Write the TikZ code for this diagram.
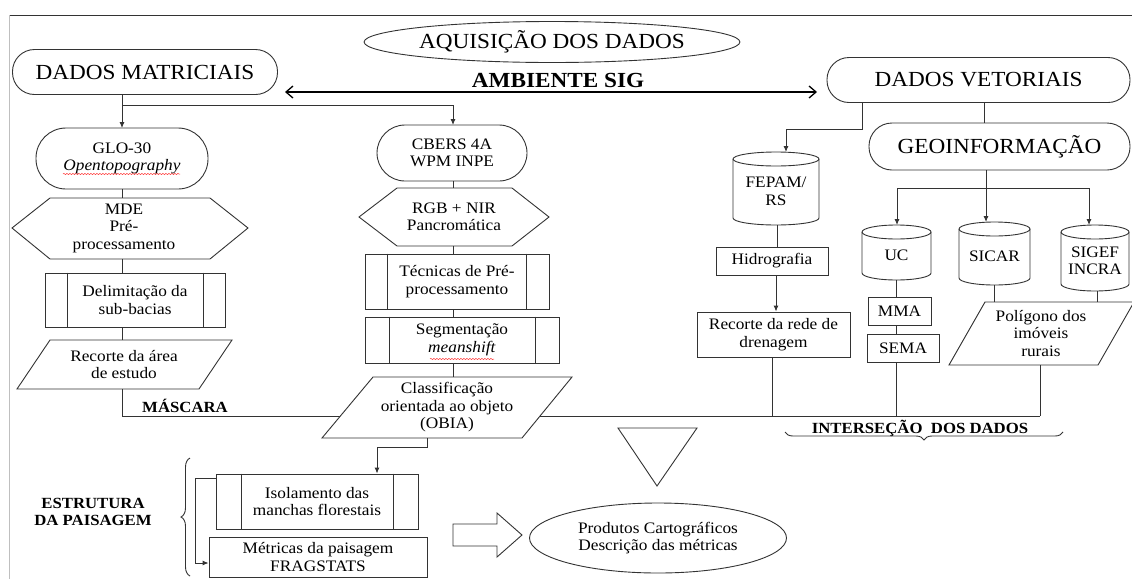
\documentclass[tikz,border=0pt]{standalone}
\usepackage{fontspec}
\setmainfont{Liberation Serif}[FakeStretch=1.08]
\usetikzlibrary{arrows.meta,shapes.geometric,decorations.pathreplacing,decorations.pathmorphing}
\tikzset{
  ln/.style={draw=black!80, line width=0.9pt},
  txt/.style={align=center, font=\fontsize{16}{17.5}\selectfont, inner sep=0pt},
  bigtxt/.style={font=\fontsize{21.5}{24}\selectfont, inner sep=0pt},
  lbl/.style={align=center, font=\bfseries\fontsize{15.5}{17.5}\selectfont, inner sep=0pt},
  arr/.style={ln, -{Latex[length=6pt,width=5pt]}},
  term/.style={ln, fill=white, rectangle, inner sep=0pt},
  boxn/.style={ln, fill=white, rectangle, inner sep=0pt, align=center, font=\fontsize{16}{17.5}\selectfont},
  shp/.style={ln, fill=white},
  squig/.style={red!80, line width=0.5pt, decorate, decoration={snake, amplitude=0.6pt, segment length=3pt}},
}
\newcommand{\dbcyl}[6]{% name, cx, top, bottom, rx, text
  \draw[shp] (#2-#5,#3-7) -- (#2-#5,#4+7) arc[start angle=180,end angle=360,x radius=#5pt,y radius=7pt]
     -- (#2+#5,#3-7) arc[start angle=0,end angle=180,x radius=#5pt,y radius=7pt] -- cycle;
  \draw[ln] (#2-#5,#3-7) arc[start angle=180,end angle=360,x radius=#5pt,y radius=7pt];
  \coordinate (#1-t) at (#2,#3);
  \coordinate (#1-b) at (#2,#4);
  \node[txt] (#1) at (#2,{(#3+#4)/2-3}) {#6};
}
\begin{document}
\begin{tikzpicture}[x=1pt,y=1pt]
\useasboundingbox (0,0) rectangle (1132,-579);
\fill[white] (0,0) rectangle (1132,-579);
% page frame
\draw[black!80, line width=0.8pt] (9,-15) -- (1132,-15);
\draw[black!25, line width=0.6pt] (9,-15) -- (9,-579);

% title
\node[ln, ellipse, minimum width=326pt, minimum height=41pt, inner sep=0pt, bigtxt] (aq) at (552,-42) {AQUISIÇÃO DOS DADOS};
\node[font=\bfseries\fontsize{21.5}{24}\selectfont, inner sep=0pt] (amb) at (558,-80) {AMBIENTE SIG};
\coordinate (dal) at (285,-92);
\coordinate (dar) at (817,-92);
\draw[black, line width=1.3pt, {Straight Barb[length=7pt,width=12pt]}-{Straight Barb[length=7pt,width=12pt]}] (dal) -- (dar);

% left column
\node[term, rounded corners=22pt, minimum width=265pt, minimum height=45pt, bigtxt] (dm) at (145,-72) {DADOS MATRICIAIS};
\node[term, rounded corners=30pt, minimum width=172pt, minimum height=61pt, txt] (glo) at (122,-158.5) {GLO-30\\\textit{Opentopography}};
\draw[squig] (63,-174) -- (180,-174);

\draw[shp] (12,-228) -- (50,-198) -- (210,-198) -- (248,-228) -- (210,-259) -- (50,-259) -- cycle;
\node[txt] (mde) at (124,-228) {MDE\\Pré-\\processamento};
\coordinate (mde-t) at (122,-198);
\coordinate (mde-b) at (122,-259);

\node[boxn, minimum width=180pt, minimum height=54pt] (del) at (135,-300) {Delimitação da\\sub-bacias};
\draw[ln] ([xshift=23pt]del.north west) -- ([xshift=23pt]del.south west);
\draw[ln] ([xshift=-22pt]del.north east) -- ([xshift=-22pt]del.south east);

\draw[shp] (17,-389) -- (50,-340) -- (232,-340) -- (199,-389) -- cycle;
\node[txt] (rec) at (124,-364.5) {Recorte da área\\de estudo};
\coordinate (rec-t) at (122,-340);
\coordinate (rec-b) at (122,-389);

% middle column
\node[term, rounded corners=28pt, minimum width=150pt, minimum height=56pt, txt] (cb) at (452,-153) {CBERS 4A\\WPM INPE};

\draw[shp] (359,-217) -- (397,-188) -- (512,-188) -- (549,-217) -- (512,-246) -- (397,-246) -- cycle;
\node[txt] (rgb) at (454,-217) {RGB + NIR\\Pancromática};
\coordinate (rgb-t) at (453,-188);
\coordinate (rgb-b) at (453,-246);

\node[boxn, minimum width=184pt, minimum height=55pt] (tec) at (457,-281.5) {Técnicas de Pré-\\processamento};
\draw[ln] ([xshift=23pt]tec.north west) -- ([xshift=23pt]tec.south west);
\draw[ln] ([xshift=-23pt]tec.north east) -- ([xshift=-23pt]tec.south east);

\node[boxn, minimum width=194pt, minimum height=46pt] (seg) at (462,-340) {Segmentação\\\textit{meanshift}};
\draw[ln] ([xshift=25pt]seg.north west) -- ([xshift=25pt]seg.south west);
\draw[ln] ([xshift=-24pt]seg.north east) -- ([xshift=-24pt]seg.south east);
\draw[squig] (430,-359) -- (494,-359);

% bottom connector line (mask / intersection)
\coordinate (m1) at (122,-416);
\coordinate (m2) at (1040,-416);
\draw[ln] (rec-b) -- (m1) -- (m2);
\node[lbl] (masc) at (185,-406) {MÁSCARA};

\draw[shp] (322,-438) -- (373,-377) -- (572,-377) -- (522,-438) -- cycle;
\node[txt] (cla) at (447,-407.5) {Classificação\\orientada ao objeto\\(OBIA)};
\coordinate (cla-t) at (453,-377);
\coordinate (cla-b) at (427,-438);

% bottom-left
\node[boxn, minimum width=202pt, minimum height=55pt] (iso) at (317,-501.5) {Isolamento das\\manchas florestais};
\draw[ln] ([xshift=26pt]iso.north west) -- ([xshift=26pt]iso.south west);
\draw[ln] ([xshift=-25pt]iso.north east) -- ([xshift=-25pt]iso.south east);
\node[boxn, minimum width=218pt, minimum height=40pt] (met) at (318,-557) {Métricas da paisagem\\FRAGSTATS};
\node[lbl] (est) at (93,-512) {ESTRUTURA\\DA PAISAGEM};
\coordinate (bra) at (190,-576);
\coordinate (brb) at (190,-458);
\draw[ln, decorate, decoration={brace, amplitude=9pt}] (bra) -- (brb);

% triangle, hollow arrow, result ellipse
\draw[shp] (618,-428) -- (697,-428) -- (657,-486) -- cycle;
\draw[shp] (453,-524) -- (497,-524) -- (497,-513) -- (522,-535) -- (497,-557) -- (497,-546) -- (453,-546) -- cycle;
\node[ln, ellipse, minimum width=257pt, minimum height=70pt, inner sep=0pt, txt] (prod) at (658,-538) {Produtos Cartográficos\\Descrição das métricas};

% right side
\node[term, rounded corners=22pt, minimum width=303pt, minimum height=45pt, bigtxt] (dv) at (978.5,-80) {DADOS VETORIAIS};
\node[term, rounded corners=23pt, minimum width=261pt, minimum height=47pt, bigtxt] (geo) at (999.5,-146.5) {GEOINFORMAÇÃO};

\dbcyl{fep}{776}{-152}{-225}{43}{FEPAM/\\RS}
\node[boxn, minimum width=112pt, minimum height=28pt] (hid) at (772,-261) {Hidrografia};
\node[boxn, minimum width=153pt, minimum height=45pt] (rdr) at (773.5,-334.5) {Recorte da rede de\\drenagem};

\dbcyl{uc}{896.5}{-225}{-280}{34.5}{UC}
\dbcyl{sic}{994.5}{-222}{-285}{35.5}{SICAR}
\dbcyl{sig}{1095}{-225}{-291}{34}{SIGEF\\INCRA}
\node[boxn, minimum width=63pt, minimum height=28pt] (mma) at (899.5,-311) {MMA};
\node[boxn, minimum width=72pt, minimum height=28pt] (sema) at (903,-348) {SEMA};

\draw[shp] (949,-365) -- (985,-302) -- (1134,-302) -- (1098,-365) -- cycle;
\node[txt] (pol) at (1041,-333.5) {Polígono dos\\imóveis\\rurais};

\node[lbl] (inter) at (920,-428) {INTERSEÇÃO\ \ DOS DADOS};
\coordinate (ia) at (1063,-432);
\coordinate (ib) at (785,-432);
\draw[ln, decorate, decoration={brace, amplitude=8pt}] (ia) -- (ib);

% connectors left
\draw[arr] (122,-95) -- (122,-128);
\draw[arr] (122,-105) -- (453,-105) -- (453,-125);
\draw[ln] (glo.south) -- (mde-t);
\draw[ln] (mde-b) -- (del.north -| mde-b);
\draw[ln] (del.south -| rec-t) -- (rec-t);
\draw[ln] (cb.south -| rgb-t) -- (rgb-t);
\draw[ln] (rgb-b) -- (tec.north -| rgb-b);
\draw[ln] (tec.south -| rgb-b) -- (seg.north -| rgb-b);
\draw[ln] (seg.south -| rgb-b) -- (cla-t);
\draw[arr] (cla-b) -- (427,-447) -- (377,-447) -- (iso.north -| 377,0);
\draw[arr] (iso.west |- 0,-478) -- (195,-478) -- (195,-563) -- (met.west |- 0,-563);

% connectors right
\draw[arr] (862,-102) -- (862,-129) -- (786,-129) -- (786,-152);
\draw[ln] (984,-102) -- (geo.north -| 984,0);
\draw[ln] (986,-170) -- (986,-188);
\draw[ln] (897,-188) -- (1089,-188);
\draw[arr] (897,-188) -- (897,-225);
\draw[arr] (986,-188) -- (986,-222);
\draw[arr] (1089,-188) -- (1089,-225);
\draw[ln] (777,-225) -- (hid.north -| 777,0);
\draw[arr] (hid.south -| 776,0) -- (rdr.north -| 776,0);
\draw[ln] (rdr.south -| 772,0) -- (772,-416);
\draw[ln] (uc-b) -- (mma.north -| uc-b);
\draw[ln] (mma.south -| uc-b) -- (sema.north -| uc-b);
\draw[ln] (sema.south -| uc-b) -- (uc-b |- m2);
\draw[ln] (sic-b) -- (sic-b |- 0,-302);
\draw[ln] (1097,-291) -- (1097,-302);
\draw[ln] (1040,-365) -- (m2);
\end{tikzpicture}
\end{document}
